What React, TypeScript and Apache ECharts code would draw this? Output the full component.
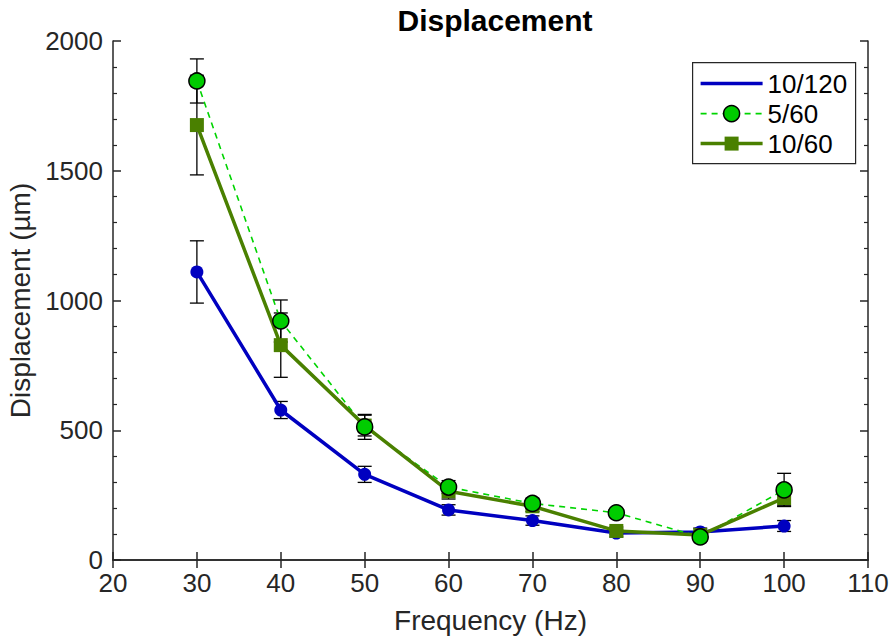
import React, { useEffect, useRef } from "react";
import * as echarts from "echarts";

const frequencies = [30, 40, 50, 60, 70, 80, 90, 100];
const s10_120 = [1110, 578, 330, 193, 152, 104, 108, 131];
const s10_120Err = [120, 33, 31, 20, 18, 15, 15, 21];
const s5_60 = [1846, 921, 513, 281, 218, 182, 89, 270];
const s5_60Err = [85, 81, 48, 25, 20, 15, 15, 64];
const s10_60 = [1676, 828, 518, 265, 207, 112, 96, 239];
const s10_60Err = [192, 124, 40, 30, 20, 15, 10, 30];
const xTicks = { min: 20, max: 110, step: 10 };
const yTicks = { min: 0, max: 2000, step: 500 };

const FONT = "'Liberation Sans', Arial, Helvetica, sans-serif";
const AX = "#262626";
const BLUE = "#0000C0";
const LIME = "#00CC00";
const OLIVE = "#4A8000";

function pairs(vals: number[]) {
  return frequencies.map((f, i) => [f, vals[i]]);
}
function errData(vals: number[], errs: number[]) {
  return frequencies.map((f, i) => [f, vals[i] - errs[i], vals[i] + errs[i]]);
}

function errSeries(vals: number[], errs: number[]) {
  return {
    type: "custom",
    z: 1,
    data: errData(vals, errs),
    encode: { x: 0, y: [1, 2] },
    renderItem: (params: any, api: any) => {
      const x = api.value(0);
      const lo = api.coord([x, api.value(1)]);
      const hi = api.coord([x, api.value(2)]);
      const w = 7;
      const st = { stroke: "#000", lineWidth: 1.3 };
      return {
        type: "group",
        children: [
          { type: "line", shape: { x1: lo[0], y1: lo[1], x2: hi[0], y2: hi[1] }, style: st },
          { type: "line", shape: { x1: lo[0] - w, y1: lo[1], x2: lo[0] + w, y2: lo[1] }, style: st },
          { type: "line", shape: { x1: hi[0] - w, y1: hi[1], x2: hi[0] + w, y2: hi[1] }, style: st },
        ],
      };
    },
  };
}

export default function App() {
  const ref = useRef<HTMLDivElement>(null);
  useEffect(() => {
    if (!ref.current) return;
    const chart = echarts.init(ref.current, undefined, { renderer: "svg" });
    const axisLine = { show: true, lineStyle: { color: AX, width: 1.5 } };
    const tick = { show: true, inside: true, length: 8, lineStyle: { color: AX, width: 1.5 } };
    const label = { fontSize: 26, color: AX, fontFamily: FONT, formatter: (v: number) => String(v) };
    const nameStyle = { fontSize: 28, color: AX, fontFamily: FONT };
    const lx = 692, ly = 62;
    const option: any = {
      animation: false,
      backgroundColor: "#fff",
      title: {
        text: "Displacement",
        left: 490,
        top: 0,
        textAlign: "center",
        textStyle: { fontSize: 30, fontWeight: "bold", color: "#000", fontFamily: FONT },
      },
      grid: { left: 113, right: 25, top: 41, bottom: 80, containLabel: false, outerBoundsMode: "none" },
      xAxis: [
        {
          type: "value", min: xTicks.min, max: xTicks.max, interval: xTicks.step, position: "bottom",
          axisLine, axisTick: tick, axisLabel: { ...label, margin: 10 }, splitLine: { show: false },
          name: "Frequency (Hz)", nameLocation: "middle", nameGap: 46, nameTextStyle: nameStyle,
        },
        {
          type: "value", min: xTicks.min, max: xTicks.max, interval: xTicks.step, position: "top",
          axisLine, axisTick: tick, axisLabel: { show: false }, splitLine: { show: false },
        },
      ],
      yAxis: [
        {
          type: "value", min: yTicks.min, max: yTicks.max, interval: yTicks.step, position: "left",
          axisLine, axisTick: tick, minorTick: { show: true, splitNumber: 5, length: 4, lineStyle: { color: AX, width: 1.2 } },
          axisLabel: { ...label, margin: 10 }, splitLine: { show: false }, minorSplitLine: { show: false },
          name: "Displacement (µm)", nameLocation: "middle", nameGap: 64, nameTextStyle: nameStyle,
        },
        {
          type: "value", min: yTicks.min, max: yTicks.max, interval: yTicks.step, position: "right",
          axisLine, axisTick: tick, minorTick: { show: true, splitNumber: 5, length: 4, lineStyle: { color: AX, width: 1.2 } },
          axisLabel: { show: false }, splitLine: { show: false }, minorSplitLine: { show: false },
        },
      ],
      series: [
        errSeries(s10_120, s10_120Err),
        errSeries(s5_60, s5_60Err),
        errSeries(s10_60, s10_60Err),
        {
          name: "10/120", type: "line", z: 2, data: pairs(s10_120),
          symbol: "circle", symbolSize: 13, itemStyle: { color: BLUE },
          lineStyle: { color: BLUE, width: 3.5 },
        },
        {
          name: "5/60 line", type: "line", z: 3, data: pairs(s5_60), showSymbol: false, symbol: "none",
          lineStyle: { color: "#00D400", width: 1.6, type: [6, 5] },
        },
        {
          name: "10/60", type: "line", z: 4, data: pairs(s10_60),
          symbol: "rect", symbolSize: 14, itemStyle: { color: OLIVE },
          lineStyle: { color: OLIVE, width: 3.5 },
        },
        {
          name: "5/60", type: "scatter", z: 5, data: pairs(s5_60),
          symbol: "circle", symbolSize: 16,
          itemStyle: { color: LIME, borderColor: "#000", borderWidth: 1.5, opacity: 1 },
        },
      ],
      graphic: [
        {
          type: "group", left: lx, top: ly, z: 10,
          children: [
            { type: "rect", shape: { x: 0, y: 0, width: 163, height: 101 }, style: { fill: "#fff", stroke: AX, lineWidth: 1.2 } },
            { type: "line", shape: { x1: 8, y1: 21, x2: 70, y2: 21 }, style: { stroke: BLUE, lineWidth: 3.5 } },
            { type: "text", x: 75, y: 21, style: { text: "10/120", fontSize: 26, fontFamily: FONT, fill: "#000", textVerticalAlign: "middle" } },
            { type: "line", shape: { x1: 8, y1: 51, x2: 70, y2: 51 }, style: { stroke: "#00D400", lineWidth: 1.6, lineDash: [6, 5] } },
            { type: "circle", shape: { cx: 39, cy: 51, r: 8 }, style: { fill: LIME, stroke: "#000", lineWidth: 1.5 } },
            { type: "text", x: 75, y: 51, style: { text: "5/60", fontSize: 26, fontFamily: FONT, fill: "#000", textVerticalAlign: "middle" } },
            { type: "line", shape: { x1: 8, y1: 81, x2: 70, y2: 81 }, style: { stroke: OLIVE, lineWidth: 3.5 } },
            { type: "rect", shape: { x: 32, y: 74, width: 14, height: 14 }, style: { fill: OLIVE } },
            { type: "text", x: 75, y: 81, style: { text: "10/60", fontSize: 26, fontFamily: FONT, fill: "#000", textVerticalAlign: "middle" } },
          ],
        },
      ],
    };
    chart.setOption(option);
    return () => chart.dispose();
  }, []);
  return <div ref={ref} style={{ position: "fixed", left: 0, top: 0, width: 893, height: 640 }} />;
}
